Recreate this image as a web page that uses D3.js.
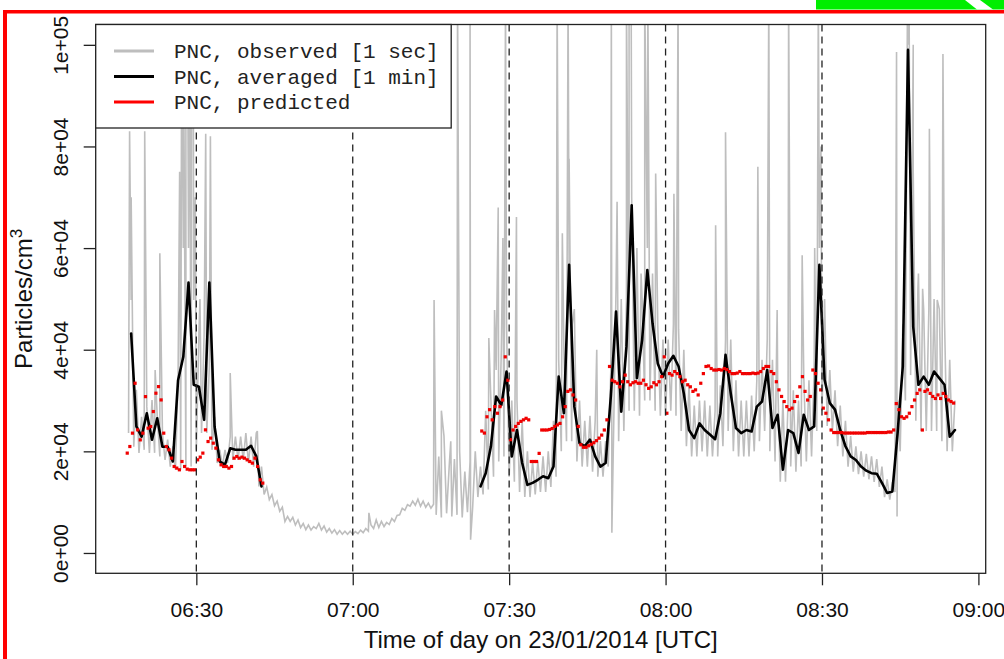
<!DOCTYPE html>
<html><head><meta charset="utf-8">
<script src="https://cdn.jsdelivr.net/npm/d3@7"></script>
<style>html,body{margin:0;padding:0;background:#fff;}svg{display:block}</style>
</head><body>
<svg id="chart" width="1004" height="659"></svg>
<script>
// ---- DATA (times in minutes after 06:00 UTC, 23/01/2014) ----
const obsStartMinute = 17;           // gray band, one low/high pair per minute
const obsLow = [
23600,20900,19700,20300,19700,19700,19000,18300,17000,16400,
16400,17000,17000,20300,23600,23600,20300,17700,17000,17700,
18300,18300,18300,17700,17000,13100,11500,10500,9300,8200,
6200,6200,5500,5000,4600,4500,4800,4500,4100,3900,
3700,3700,3700,3700,3800,4000,4300,4800,5000,5200,
5600,6200,7500,8400,9200,9400,9200,9000,8800,7500,
7000,7800,7200,7500,7000,8000,9000,11000,11500,12500,
15000,18000,19000,15000,14000,12000,11000,11000,11500,12000,
12000,13000,15000,20000,22000,22000,18000,17000,17000,16000,
15000,15000,17000,22000,22000,24000,28000,28000,27000,30000,
30000,28000,27000,27000,28000,27000,24000,21000,19000,19000,
20000,19000,19000,19000,21000,24000,20000,19000,19000,19000,
20000,22000,24000,20000,18000,14000,14000,17000,16000,17000,
18000,19000,24000,28000,25000,24000,21000,19000,17000,16000,
15500,15000,14500,14000,13000,11000,10500,12000,20000,30000,
35000,26000,24000,24000,24000,24000,22000,20000,20000];
const obsHigh = [
49800,32100,26800,28800,30100,27000,23600,22300,21000,34700,
60000,60000,49800,43300,43300,36700,26800,20300,20300,22900,
22900,22900,23600,22900,23600,17000,13000,11500,10200,9000,
7200,7000,6500,5800,5500,5200,5800,5300,4800,4600,
4400,4300,4300,4200,4500,4800,5500,6500,6200,6000,
6800,7400,8800,9500,10200,10600,10200,9800,9600,19000,
23000,17000,18500,20000,16000,18000,20000,17000,28000,30000,
36000,40000,45000,30000,30000,26000,20000,18000,18000,19000,
20000,26000,38000,40000,55000,48000,30000,26000,27000,26000,
22000,22000,36000,52000,50000,50000,70000,60000,50000,60000,
55000,45000,42000,42000,45000,44000,40000,33000,29000,30000,
30000,29000,28000,33000,42000,42000,34000,30000,30000,31000,
34000,38000,42000,38000,34000,30000,30000,32000,30000,35000,
34000,36000,60000,50000,36000,32000,29000,26000,23000,21000,
20000,19500,19000,18500,17000,14500,14000,30000,45000,100000,
100000,55000,48000,48000,50000,48000,46000,38000,30000];
const obsSpikes = [
[17.2,83000],[17.5,70000],[20.1,83000],[22.1,36000],[23.0,59000],
[26.8,75000],[27.2,110000],[27.6,90000],[28.0,110000],[28.3,110000],[28.7,110000],
[29.1,95000],[29.4,110000],[29.8,70000],[30.7,50000],[31.8,82500],[32.7,82000],
[36.5,35400],[41.7,24000],[63.1,7900],
[75.6,49800],[77.0,28000],[78.8,22000],[80.1,110000],[82.5,110000],[82.6,2600],
[86.1,42300],[87.2,47800],[87.9,68000],[88.8,62000],[89.3,110000],[91.4,66100],
[99.2,110000],[100.2,62900],[101.3,110000],[101.5,77600],[102.1,45000],[106.8,40000],
[109.6,110000],[109.7,4000],[110.7,69100],[112.5,110000],[113.0,110000],[113.4,110000],
[115.3,55000],[116.0,110000],[116.6,110000],[118.1,74700],[121.6,70700],[122.4,110000],
[129.6,64500],[131.5,82800],[137.7,76000],[139.8,110000],[141.4,47800],[143.6,110000],
[146.2,58600],[148.6,60000],[149.3,110000],[149.8,80000],[164.3,98600],[164.4,7200],
[166.4,110000],[166.7,110000],[167.5,75000],[168.4,52100],[169.3,52000],[170.6,83500],
[172.1,49800],[173.2,98200]];

const avgStart1 = 17.5;   // 1-minute averages, first run
const avgValues1 = [43200,24900,22900,27500,22300,26500,20900,20900,18000,34000,
38600,53200,33100,32700,26200,53200,24900,18000,17400,20600,
20300,20300,20300,21100,19000,13100];
const avgStart2 = 84.5;   // 1-minute averages, second run
const avgValues2 = [13100,15700,21000,30800,29100,35700,19000,24200,17700,13400,
13800,14400,15100,14700,17000,34700,27500,56700,28800,21600,
21000,22300,19000,17000,17700,30800,47500,27800,40600,68400,
34400,41900,55700,45200,37300,34700,37300,38800,36700,31400,
24200,22600,25500,24200,23300,22400,27500,39000,31400,24600,
23600,24200,23900,28800,29800,36000,24600,27200,16400,24200,
23600,19700,27200,24200,24900,56700,34100,29500,28200,24200,
21000,19000,18300,17000,16200,15700,15600,13800,11800,12100,
23600,36700,99000,44500,33100,34700,33100,35700,34400,33100,
22900,24200];

const predStart1 = 16.75; // predictions every 30 s
const predValues1 = [19650,20950,23580,33400,24230,22260,23580,30770,24560,24880,
27830,31440,32740,30120,23580,20950,20300,18660,17020,16700,
16370,18000,17020,16500,16370,16370,16370,18330,18860,19650,
24230,21930,22600,21610,20630,18330,17350,17020,17020,16700,
17020,18660,18980,18660,18860,18660,18330,18000,17680,18660,
17020,14400,13750];
const predStart2 = 84.75;
const predValues2 = [24000,23600,26800,28200,26200,28800,27500,28800,30100,38600,
34000,22300,24200,24900,25500,25900,26200,26500,26200,18000,
18000,18000,19600,24200,24200,24200,24300,24500,24900,25200,
25500,26800,28800,31800,32100,31100,30100,24900,21300,20800,
20800,21100,21400,21700,22100,22600,23200,24200,26200,36700,
34000,33700,33400,32700,33700,35000,33700,33100,33500,33700,
33400,33400,34000,33100,32400,32700,33500,33100,33700,34700,
38600,27500,35300,35000,35700,35300,34700,33700,34000,33100,
32700,31800,32100,31100,33400,35300,36700,36800,36300,36000,
36000,36100,36000,36300,36100,35700,35300,35300,35400,35700,
35300,35300,35300,35300,35400,35300,35400,35700,36300,36700,
36700,35700,35300,33700,32100,30800,29800,28800,28200,28500,
29800,30800,32700,34700,31800,30100,30800,36000,35300,33400,
32100,28500,27500,26200,24200,23700,23700,23700,23700,23600,
23600,23600,23600,23600,23600,23600,23600,23600,23700,23700,
23700,23700,23700,23700,23700,23700,23800,23800,24200,29400,
28200,26800,26500,26800,27500,28800,30100,31400,32100,24200,
31800,32100,31400,30800,30400,31100,30400,31400,30800,30100,
29800,29500];

const xTickLabels = ["06:30","07:00","07:30","08:00","08:30","09:00"];
const markerTimes = ["06:30","07:00","07:30","08:00","08:30"];
const yTickValues = [0,20000,40000,60000,80000,100000];
const yTickLabels = ["0e+00","2e+04","4e+04","6e+04","8e+04","1e+05"];
const legendLabels = ["PNC, observed [1 sec]","PNC, averaged [1 min]","PNC, predicted"];
const legendColors = ["#bebebe","#000000","#ff0000"];
const xTitle = "Time of day on 23/01/2014 [UTC]";

// ---- helpers ----
const base = Date.UTC(2014,0,23,6,0);
const toDate = m => new Date(base + m*60000);
const hm = s => { const p = s.split(":").map(Number); return (p[0]-6)*60 + p[1]; };

const svg = d3.select("#chart");
const L = 95.7, R = 985.7, T = 24.5, B = 573.3;

// decorative frame of the screenshot
svg.append("rect").attr("x",816).attr("y",0).attr("width",188).attr("height",9.5).attr("fill","#00ee00");
svg.append("polygon").attr("points","965,0 980,0 993,9.5 977,9.5").attr("fill","#fff");
svg.append("rect").attr("x",3).attr("y",10).attr("width",1001).attr("height",3.5).attr("fill","#ff0000");
svg.append("rect").attr("x",3).attr("y",10).attr("width",4).attr("height",649).attr("fill","#ff0000");

const x = d3.scaleUtc().domain([toDate(10.7), toDate(181.4)]).range([L, R]);
const y = d3.scaleLinear().domain([-4000, 104000]).range([B, T]);

svg.append("clipPath").attr("id","plotclip").append("rect")
  .attr("x",L).attr("y",T).attr("width",R-L).attr("height",B-T);
const plot = svg.append("g").attr("clip-path","url(#plotclip)");

// observed (gray)
const obsPts = [];
obsLow.forEach((v,i) => { obsPts.push([obsStartMinute+i, v]); obsPts.push([obsStartMinute+i+0.5, obsHigh[i]]); });
obsSpikes.forEach(s => obsPts.push([s[0], s[1]]));
obsPts.sort((a,b) => a[0]-b[0]);
const line = d3.line().x(d => x(toDate(d[0]))).y(d => y(d[1]));
plot.append("path").datum(obsPts).attr("d", line)
  .attr("fill","none").attr("stroke","#bebebe").attr("stroke-width",1.6).attr("stroke-linejoin","miter");

// averaged (black)
[[avgStart1, avgValues1],[avgStart2, avgValues2]].forEach(([s, vals]) => {
  plot.append("path").datum(vals.map((v,i) => [s+i, v])).attr("d", line)
    .attr("fill","none").attr("stroke","#000").attr("stroke-width",2.6)
    .attr("stroke-linejoin","round").attr("stroke-linecap","round");
});

// predicted (red squares)
[[predStart1, predValues1],[predStart2, predValues2]].forEach(([s, vals]) => {
  plot.append("g").selectAll("rect").data(vals.map((v,i) => [s+i*0.5, v])).join("rect")
    .attr("x", d => x(toDate(d[0]))-1.6).attr("y", d => y(d[1])-1.6)
    .attr("width",3.2).attr("height",3.2).attr("fill","#f00000");
});

// dashed markers
svg.append("g").selectAll("line").data(markerTimes).join("line")
  .attr("x1", d => x(toDate(hm(d)))).attr("x2", d => x(toDate(hm(d))))
  .attr("y1", T).attr("y2", B)
  .attr("stroke","#222").attr("stroke-width",1.3).attr("stroke-dasharray","7,5");

// axes
const fontSans = "'Liberation Sans', Arial, Helvetica, sans-serif";
const xAxis = d3.axisBottom(x).tickValues(xTickLabels.map(s => toDate(hm(s))))
  .tickFormat(d3.utcFormat("%H:%M")).tickSize(12).tickPadding(17);
const gx = svg.append("g").attr("transform",`translate(0,${B})`).call(xAxis);
gx.select(".domain").remove();
gx.selectAll("line").attr("stroke","#222").attr("stroke-width",1.3);
gx.selectAll("text").attr("font-family",fontSans).attr("font-size",21).attr("fill","#111");

const yAxis = d3.axisLeft(y).tickValues(yTickValues).tickFormat((d,i) => yTickLabels[i]).tickSize(12);
const gy = svg.append("g").attr("transform",`translate(${L},0)`).call(yAxis);
gy.select(".domain").remove();
gy.selectAll("line").attr("stroke","#222").attr("stroke-width",1.3);
gy.selectAll("text").attr("font-family",fontSans).attr("font-size",21).attr("fill","#111")
  .attr("transform","rotate(-90)").attr("x",0).attr("y",-28).attr("dy",0)
  .attr("text-anchor","middle");

// plot box
svg.append("rect").attr("x",L).attr("y",T).attr("width",R-L).attr("height",B-T)
  .attr("fill","none").attr("stroke","#222").attr("stroke-width",1.3);

// titles
svg.append("text").attr("x",(L+R)/2).attr("y",648).attr("text-anchor","middle")
  .attr("font-family",fontSans).attr("font-size",24).attr("fill","#111").text(xTitle);
const yt = svg.append("text").attr("transform",`translate(32,${(T+B)/2}) rotate(-90)`)
  .attr("text-anchor","middle").attr("font-family",fontSans).attr("font-size",24).attr("fill","#111");
yt.append("tspan").text("Particles/cm");
yt.append("tspan").attr("font-size",17).attr("dy",-10).text("3");

// legend
const lg = svg.append("g");
lg.append("rect").attr("x",L).attr("y",T).attr("width",355.5).attr("height",103.5)
  .attr("fill","#fff").attr("stroke","#222").attr("stroke-width",1.3);
legendLabels.forEach((lab,i) => {
  const yy = 51 + i*25.5;
  lg.append("line").attr("x1",114).attr("x2",154).attr("y1",yy).attr("y2",yy)
    .attr("stroke",legendColors[i]).attr("stroke-width",3);
  lg.append("text").attr("x",174).attr("y",yy).attr("dy","0.35em")
    .attr("font-family","'Courier New','Liberation Mono',monospace").attr("font-size",21)
    .attr("fill","#222").text(lab);
});
</script>
</body></html>
